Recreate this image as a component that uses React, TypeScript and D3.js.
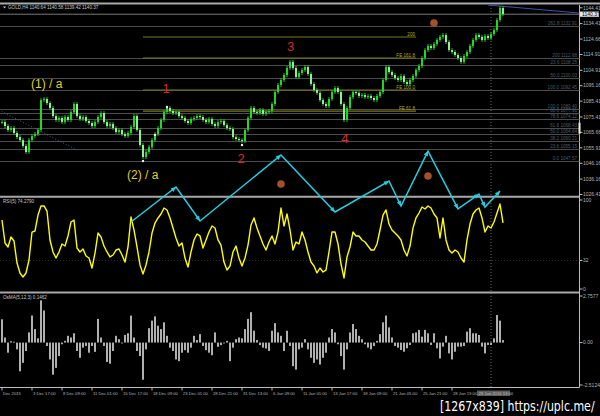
import React from "react";
import * as d3 from "d3";

// ---------- DATA ----------
const closes = [
  1072.2, 1069.7, 1067.2, 1068.4, 1065.3, 1062.7, 1060.8, 1057.1, 1053.3, 1060.8,
  1063.4, 1064.6, 1067.2, 1086.1, 1086.8, 1084.2, 1081.1, 1076.0, 1073.5, 1074.8,
  1072.2, 1075.4, 1073.5, 1078.5, 1083.6, 1076.0, 1074.1, 1075.4, 1072.9, 1071.6,
  1069.7, 1072.2, 1075.4, 1077.9, 1072.2, 1069.7, 1071.0, 1068.4, 1065.9, 1067.2,
  1064.6, 1063.4, 1065.3, 1069.1, 1076.0, 1067.2, 1057.7, 1050.1, 1053.3, 1056.4,
  1060.8, 1064.6, 1068.4, 1073.5, 1078.5, 1081.1, 1079.2, 1077.9, 1078.5, 1076.0,
  1074.8, 1072.9, 1071.6, 1074.1, 1074.8, 1076.0, 1075.4, 1073.5, 1072.2, 1074.1,
  1071.0, 1069.7, 1072.2, 1072.9, 1070.3, 1068.4, 1067.8, 1062.7, 1061.5, 1060.8,
  1060.2, 1067.2, 1074.8, 1081.1, 1078.5, 1077.9, 1079.8, 1077.3, 1078.5, 1079.2,
  1083.6, 1091.2, 1095.6, 1098.8, 1101.9, 1106.4, 1110.2, 1106.4, 1100.7, 1103.2,
  1105.1, 1107.0, 1102.6, 1096.2, 1092.4, 1090.6, 1086.1, 1083.6, 1082.3, 1086.8,
  1091.2, 1093.7, 1091.2, 1083.6, 1073.5, 1081.1, 1088.0, 1091.2, 1090.6, 1088.7,
  1089.3, 1088.0, 1088.7, 1087.4, 1086.1, 1088.7, 1091.2, 1098.8, 1107.0, 1103.8,
  1101.9, 1100.0, 1098.8, 1101.3, 1097.5, 1096.2, 1098.8, 1101.3, 1105.1, 1107.6,
  1112.7, 1117.7, 1120.3, 1119.0, 1121.5, 1124.1, 1126.0, 1127.2, 1122.8, 1117.7,
  1116.5, 1114.6, 1112.7, 1110.2, 1113.9, 1116.5, 1120.3, 1124.1, 1127.2, 1126.0,
  1124.1, 1126.6, 1125.3, 1127.8, 1130.4, 1136.7, 1144.3, 1140.37,
];

const rsi = [
  77.5, 51.7, 47.2, 58.4, 53.9, 29.2, 18.0, 13.5, 18.0, 32.6,
  64.0, 65.2, 83.1, 93.3, 93.3, 87.6, 55.1, 41.6, 34.8, 41.6,
  50.6, 48.3, 59.6, 75.3, 77.5, 46.1, 41.6, 44.9, 37.1, 34.8,
  23.6, 40.4, 62.9, 58.4, 48.3, 41.6, 36.0, 38.2, 43.8, 44.9,
  38.2, 30.3, 47.2, 80.9, 66.3, 47.2, 27.0, 16.9, 27.0, 41.6,
  62.9, 74.1, 79.8, 84.3, 91.0, 88.8, 79.8, 68.5, 57.3, 48.3,
  51.7, 34.8, 24.7, 41.6, 55.1, 61.8, 59.6, 46.1, 55.1, 64.0,
  70.8, 68.5, 55.1, 49.4, 30.3, 21.3, 25.8, 41.6, 48.3, 34.8,
  25.8, 34.8, 49.4, 71.9, 79.8, 68.5, 59.6, 50.6, 43.8, 52.8,
  59.6, 50.6, 64.0, 91.0, 70.8, 84.3, 66.3, 43.8, 52.8, 50.6,
  64.0, 55.1, 41.6, 30.3, 25.8, 18.0, 23.6, 19.1, 21.3, 41.6,
  64.0, 64.0, 50.6, 28.1, 12.4, 36.0, 47.2, 64.0, 59.6, 59.6,
  55.1, 52.8, 48.3, 43.8, 43.8, 50.6, 66.3, 83.1, 88.8, 73.0,
  66.3, 62.9, 59.6, 55.1, 43.8, 37.1, 48.3, 68.5, 79.8, 85.4,
  92.1, 89.9, 93.3, 91.0, 84.3, 79.8, 57.3, 79.8, 55.1, 43.8,
  40.4, 43.8, 41.6, 34.8, 30.3, 55.1, 73.0, 84.3, 88.8, 91.0,
  79.8, 64.0, 70.8, 68.5, 75.3, 85.4, 95.5, 74.3,
];

const osma = [
  1.38, 0.3, -0.6, 0.08, 0.05, -0.4, -1.7, -1.2, -0.5, 0.6,
  1.6, 0.8, 0.25, 2.5, 1.9, -0.2, -1.0, -1.9, -1.5, -0.8,
  -0.1, 0.1, 0.4, 0.3, 0.55, -0.5, -0.9, -0.3, -0.2, -0.6,
  -0.2, -0.55, 1.4, 0.3, -0.2, -1.15, -1.25, -0.5, 0.4, 0.2,
  -0.05, 0.45, 0.55, 1.6, 0.3, -0.5, -0.8, -2.2, -0.4, 0.85,
  1.3, 1.55, 1.0, 0.8, 1.2, 0.4, -0.3, -0.5, -1.0, -1.1,
  -0.6, -0.45, -0.6, -0.3, 0.4, 0.15, 0.5, -0.2, -0.45, -0.6,
  -0.75, 0.6, -0.25, -0.15, -0.05, 0.1, -1.1, -0.3, 0.2, 0.3,
  0.25, 0.8, 1.4, 1.8, 0.7, 0.15, -0.15, -0.3, -0.35, -0.5,
  0.7, 1.15, 0.6, 0.4, -0.5, 0.7, -0.2, -1.4, -1.6, -0.4,
  -0.3, 0.2, -0.4, -0.9, -1.2, -1.0, -1.3, -0.9, -0.6, 0.3,
  0.8, 0.6, -0.1, -0.8, -1.6, -0.4, 0.6, 1.1, 0.8, 0.4,
  0.2, -0.1, -0.3, -0.4, -0.2, 0.1, 0.5, 1.2, 1.6, 0.9,
  0.3, -0.2, -0.3, -0.44, -0.54, -0.34, -0.14, 0.55, 0.6, 0.75,
  0.35, 0.75, 0.55, -0.14, 0.55, -0.34, -0.94, -0.24, 0.4, -0.64,
  -1.0, -0.54, -0.24, -0.24, -0.2, 0.65, 0.85, 0.55, 0.55, 0.45,
  -0.24, -0.64, -0.14, -0.14, 0.25, 1.63, 1.3, 0.146,
];

const priceTicks = [1144.41, 1134.41, 1124.66, 1114.91, 1104.91, 1095.16, 1085.41, 1075.41, 1065.66, 1055.91, 1046.16, 1036.16, 1026.41];
const rsiTicks = [100, 32, 0];
const osmaTickLabels = ["2.7577", "0.00", "-2.5124"];
const osmaTickValues = [2.7577, 0, -2.5124];

const timeLabels = ["Dec 2015", "3 Dec 17:00", "8 Dec 09:00", "11 Dec 01:00", "15 Dec 17:00", "18 Dec 09:00", "23 Dec 01:00", "28 Dec 21:00", "31 Dec 13:00", "6 Jan 09:00", "11 Jan 01:00", "13 Jan 17:00", "18 Jan 09:00", "21 Jan 05:00", "25 Jan 21:00", "28 Jan 13:00"];
const timeLabelIdx = [0, 10, 20, 30, 40, 50, 60, 70, 80, 90, 100, 110, 120, 130, 140, 150];

const fibLevels = [1132.91, 1112.68, 1108.25, 1100.03, 1092.45, 1080.40, 1077.91, 1074.12, 1068.43, 1064.64, 1060.21, 1055.15, 1047.57];
const fibNames = ["261.8", "200", "23.6", "50.0", "100.0", "100.0", "88.6", "78.6", "61.8", "50.0", "38.2", "23.6", "0.0"];

const feLevels = [1125.95, 1112.68, 1092.45, 1079.13];
const feNames = ["200", "FE 161.8", "FE 100.0", "FE 61.8"];
const feRange = [47, 138];

const zzIdx = [43, 58, 66, 93, 111, 129, 133, 142, 152, 159, 161, 166];
const zzVal = [75.3, 114.6, 76.4, 150.6, 86.5, 121.3, 93.3, 155, 90, 106.7, 92, 110];

const waveTexts = ["(1) / a", "(2) / a", "1", "2", "3", "4"];
const waveIdx = [9.7, 41.7, 54.7, 79.7, 96.2, 114.3];
const wavePrice = [1093.7, 1036.2, 1090.6, 1046.3, 1117.1, 1059.0];
const waveColor = ["#e2cf2c", "#e2cf2c", "#d42a2a", "#d42a2a", "#d42a2a", "#d42a2a"];

const pivotIdx = [47, 51, 55, 80];
const pivotPrice = [1047.6, 1064.0, 1081.7, 1057.7];

const circleIdx = [144, 93, 142];
const circlePrice = [1134.8, 1033.0, 1038.1];

const trendA = { i: [-1, 25], p: [1079.8, 1054.5] };
const trendB = { i: [162, 192.3], p: [1146.2, 1141.1] };

const bidPrice = 1140.37;
const cursorIdx = 163;

export default function App() {
  const AX = 579.5;
  const font = "'Liberation Sans', Arial, sans-serif";
  const x = d3.scaleLinear().domain([0, closes.length - 1]).range([2, 503]);
  const yP = d3.scaleLinear().domain([1026.41, 1144.41]).range([194.5, 7.8]);
  const yR = d3.scaleLinear().domain([0, 100]).range([289, 200]);
  const yO = d3.scaleLinear().domain([-2.5124, 2.7577]).range([385, 296]);

  const candles = closes.map((c, i) => {
    const o = i === 0 ? c : closes[i - 1];
    const a = yP(o), b = yP(c);
    return { cx: x(i), top: Math.min(a, b), bot: Math.max(a, b), up: c >= o };
  });

  const rsiPath = d3.line<number>().x((_, i) => x(i)).y((v) => yR(v))(rsi) || "";
  const zz: [number, number][] = zzIdx.map((idx, k) => [x(idx), yR(zzVal[k])]);
  const zzPath = d3.line()(zz) || "";
  const arrows = zz.slice(1).map((p, k) => {
    const q = zz[k];
    const ang = Math.atan2(p[1] - q[1], p[0] - q[0]);
    const L = 5, Wd = 2.3;
    const bx = p[0] - L * Math.cos(ang), by = p[1] - L * Math.sin(ang);
    const nx = -Math.sin(ang) * Wd, ny = Math.cos(ang) * Wd;
    return `M${p[0]},${p[1]}L${bx + nx},${by + ny}L${bx - nx},${by - ny}Z`;
  });

  const y0 = yO(0);
  const lab = { fontFamily: font, fontSize: 5, fill: "#b4b4b4" } as const;

  return (
    <svg width={600} height={416} style={{ position: "absolute", left: 0, top: 0, display: "block" }}>
      <rect x={0} y={0} width={600} height={416} fill="#000" />

      {/* frame lines */}
      <line x1={0} x2={600} y1={3.5} y2={3.5} stroke="#a8a8a8" strokeWidth={2} />
      <line x1={0} x2={AX} y1={196.8} y2={196.8} stroke="#a8a8a8" strokeWidth={2} />
      <line x1={0} x2={AX} y1={292.6} y2={292.6} stroke="#a8a8a8" strokeWidth={2} />
      <line x1={AX} x2={AX} y1={5} y2={387.5} stroke="#bdbdbd" strokeWidth={1} />
      <line x1={0} x2={AX} y1={387.5} y2={387.5} stroke="#bdbdbd" strokeWidth={1} />

      {/* fib levels */}
      {fibLevels.map((p, k) => (
        <g key={"fib" + k}>
          <line x1={0} x2={AX} y1={Math.round(yP(p)) + 0.5} y2={Math.round(yP(p)) + 0.5} stroke="#4c4c4c" strokeWidth={1} />
          <text x={577} y={yP(p) - 0.8} textAnchor="end" fontFamily={font} fontSize={4.6} fill="#4d5c66">
            {fibNames[k] + "  " + p.toFixed(2)}
          </text>
        </g>
      ))}
      {/* bid line */}
      <line x1={0} x2={AX} y1={yP(bidPrice)} y2={yP(bidPrice)} stroke="#7a7a7a" strokeWidth={1} />

      {/* FE levels */}
      {feLevels.map((p, k) => (
        <g key={"fe" + k}>
          <line x1={x(feRange[0])} x2={x(feRange[1])} y1={yP(p)} y2={yP(p)} stroke="#78781a" strokeWidth={1.2} />
          <text x={x(feRange[1]) - 1} y={yP(p) - 1.2} textAnchor="end" fontFamily={font} fontSize={4.6} fill="#b0a828">
            {feNames[k]}
          </text>
        </g>
      ))}

      {/* trendlines */}
      <line x1={x(trendA.i[0])} y1={yP(trendA.p[0])} x2={x(trendA.i[1])} y2={yP(trendA.p[1])} stroke="#4a5a80" strokeWidth={1} strokeDasharray="1,2" />
      <line x1={x(trendB.i[0])} y1={yP(trendB.p[0])} x2={x(trendB.i[1])} y2={yP(trendB.p[1])} stroke="#4050a8" strokeWidth={1} />

      {/* cursor vertical */}
      <line x1={x(cursorIdx)} x2={x(cursorIdx)} y1={5} y2={387} stroke="#6a6a6a" strokeWidth={1} strokeDasharray="1,2" />

      {/* candles */}
      {candles.map((c, i) => (
        <g key={"c" + i}>
          <line x1={c.cx} x2={c.cx} y1={c.top - 2} y2={c.bot + 2} stroke="#1fc41f" strokeWidth={1} />
          <rect x={c.cx - 1} y={c.top} width={2} height={Math.max(1, c.bot - c.top)} fill={c.up ? "#22d822" : "#8ff08f"} />
        </g>
      ))}

      {/* pivot dots */}
      {pivotIdx.map((idx, k) => (
        <circle key={"pv" + k} cx={x(idx)} cy={yP(pivotPrice[k])} r={1.2} fill="#f0f0f0" />
      ))}

      {/* brown circles */}
      {circleIdx.map((idx, k) => (
        <circle key={"bc" + k} cx={x(idx)} cy={yP(circlePrice[k])} r={3.8} fill="#a4502e" />
      ))}

      {/* wave labels */}
      {waveTexts.map((t, k) => (
        <text key={"w" + k} x={x(waveIdx[k])} y={yP(wavePrice[k])} textAnchor={k < 2 ? "start" : "middle"}
          fontFamily={font} fontSize={k < 2 ? 12 : 13} fill={waveColor[k]}>
          {t}
        </text>
      ))}

      {/* RSI */}
      <line x1={0} x2={AX} y1={yR(32)} y2={yR(32)} stroke="#2c2c2c" strokeWidth={1} strokeDasharray="1,2" />
      <path d={rsiPath} fill="none" stroke="#ffff00" strokeWidth={1.4} strokeLinejoin="round" />

      {/* zigzag */}
      <path d={zzPath} fill="none" stroke="#22cfe0" strokeWidth={1.5} />
      {arrows.map((d, k) => <path key={"ar" + k} d={d} fill="#22cfe0" />)}

      {/* OsMA */}
      {osma.map((v, i) => (
        <rect key={"o" + i} x={x(i) - 0.9} y={Math.min(yO(v), y0)} width={1.8} height={Math.max(0.5, Math.abs(yO(v) - y0))} fill="#c4c4c4" />
      ))}

      {/* panel captions */}
      <path d="M3,6.5 L6,6.5 L4.5,8.5 Z" fill="#c8c8c8" />
      <text x={8} y={9.2} fontFamily={font} fontSize={4.6} fill="#c8c8c8">GOLD,H4  1140.64 1140.58 1139.42 1140.37</text>
      <text x={3} y={202.8} fontFamily={font} fontSize={4.6} fill="#c8c8c8">RSI(5) 74.2790</text>
      <text x={3} y={298.8} fontFamily={font} fontSize={4.6} fill="#c8c8c8">OsMA(5,12,3) 0.1462</text>

      {/* price axis */}
      {priceTicks.map((p, k) => (
        <g key={"pt" + k}>
          <line x1={AX} x2={AX + 3} y1={yP(p)} y2={yP(p)} stroke="#bdbdbd" strokeWidth={1} />
          <text x={583} y={yP(p) + 1.7} {...lab}>{p.toFixed(2)}</text>
        </g>
      ))}
      <rect x={580} y={yP(bidPrice) - 2.6} width={19} height={5.2} fill="#e8e8e8" />
      <text x={582} y={yP(bidPrice) + 1.7} fontFamily={font} fontSize={5} fill="#000">{bidPrice.toFixed(2)}</text>
      <rect x={578.5} y={122.7} width={2} height={11} fill="#f2f2f2" />

      {/* RSI axis */}
      {rsiTicks.map((v, k) => (
        <g key={"rt" + k}>
          <line x1={AX} x2={AX + 3} y1={yR(v)} y2={yR(v)} stroke="#bdbdbd" strokeWidth={1} />
          <text x={583} y={yR(v) + 1.7} {...lab}>{String(v)}</text>
        </g>
      ))}

      {/* OsMA axis */}
      {osmaTickValues.map((v, k) => (
        <g key={"ot" + k}>
          <line x1={AX} x2={AX + 3} y1={yO(v)} y2={yO(v)} stroke="#bdbdbd" strokeWidth={1} />
          <text x={583} y={yO(v) + 1.7} {...lab}>{osmaTickLabels[k]}</text>
        </g>
      ))}

      {/* time axis */}
      {timeLabels.map((t, k) => (
        <g key={"tl" + k}>
          <line x1={x(timeLabelIdx[k])} x2={x(timeLabelIdx[k])} y1={387.5} y2={390.5} stroke="#bdbdbd" strokeWidth={1} />
          <text x={x(timeLabelIdx[k]) + 1} y={395} fontFamily={font} fontSize={4.2} fill="#b4b4b4">{t}</text>
        </g>
      ))}
      <rect x={477} y={390.5} width={33} height={5.5} fill="#5c5c5c" />
      <text x={478.5} y={394.8} fontFamily={font} fontSize={4.2} fill="#bdbdbd">29 Jan 2016 13:00</text>

      {/* watermark */}
      <g transform="translate(440,411) scale(1,1.25)">
        <text x={0} y={0} fontFamily="'DejaVu Sans', sans-serif" fontSize={11} fill="#ffffff" stroke="#000" strokeWidth={1.6}
          paintOrder="stroke">[1267x839] https://uplc.me/</text>
      </g>
    </svg>
  );
}
